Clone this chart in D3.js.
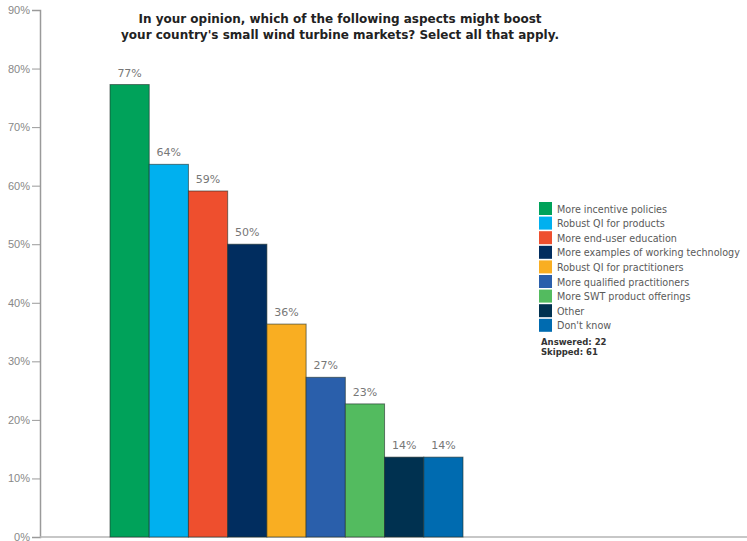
<!DOCTYPE html>
<html>
<head>
<meta charset="utf-8">
<script src="https://cdn.jsdelivr.net/npm/d3@7"></script>
<style>
  body { margin: 0; background: #fff; }
  svg { display: block; font-family: "DejaVu Sans", Verdana, sans-serif; }
</style>
</head>
<body>
<div id="chart"></div>
<script>
// survey answers (share of respondents)
const categories = [
    "More incentive policies",
    "Robust QI for products",
    "More end-user education",
    "More examples of working technology",
    "Robust QI for practitioners",
    "More qualified practitioners",
    "More SWT product offerings",
    "Other",
    "Don't know"
];
const values = [77.27, 63.64, 59.09, 50.0, 36.36, 27.27, 22.73, 13.64, 13.64];
const colors = ["#00a25a", "#00b0ef", "#ee4f2e", "#012d5f", "#f9ae22", "#2a5fab", "#53bb5f", "#003150", "#006bb0"];
const yTicks = [0, 10, 20, 30, 40, 50, 60, 70, 80, 90];
const titleLines = [
    "In your opinion, which of the following aspects might boost",
    "your country's small wind turbine markets? Select all that apply."
];
const notes = ["Answered: 22", "Skipped: 61"];

const width = 747, height = 541;

const svg = d3.select("#chart").append("svg")
    .attr("width", width)
    .attr("height", height);

const y = d3.scaleLinear().domain([0, 90]).range([537, 10]);
const x = d3.scaleBand().domain(categories).range([110, 463]).padding(0);

// title
svg.append("g").selectAll("text")
    .data(titleLines)
    .enter().append("text")
    .attr("x", 340)
    .attr("y", (d, i) => 23 + i * 15.5)
    .attr("text-anchor", "middle")
    .attr("font-size", 12)
    .attr("font-weight", "bold")
    .attr("fill", "#222")
    .text(d => d);

// y axis
const yAxis = d3.axisLeft(y)
    .tickValues(yTicks)
    .tickFormat(d => d + "%")
    .tickSize(8)
    .tickPadding(2);

const gy = svg.append("g")
    .attr("transform", "translate(40,0)")
    .call(yAxis);
gy.select(".domain").attr("stroke", "#9a9a9a").attr("stroke-width", 1.5);
gy.selectAll(".tick line").attr("stroke", "#9a9a9a");
gy.selectAll(".tick text").attr("fill", "#888").attr("font-size", 11);

// bottom line
svg.append("line")
    .attr("x1", 40).attr("x2", width)
    .attr("y1", y(0)).attr("y2", y(0))
    .attr("stroke", "#b5b5b5").attr("stroke-width", 1.5);

// bars
svg.append("g").selectAll("rect")
    .data(categories)
    .enter().append("rect")
    .attr("x", d => x(d))
    .attr("y", (d, i) => y(values[i]))
    .attr("width", x.bandwidth())
    .attr("height", (d, i) => y(0) - y(values[i]))
    .attr("fill", (d, i) => colors[i])
    .attr("stroke", "#1f2f2a")
    .attr("stroke-opacity", 0.6)
    .attr("stroke-width", 1);

// value labels
svg.append("g").selectAll("text")
    .data(categories)
    .enter().append("text")
    .attr("x", d => x(d) + x.bandwidth() / 2)
    .attr("y", (d, i) => y(values[i]) - 8)
    .attr("text-anchor", "middle")
    .attr("font-size", 11)
    .attr("fill", "#777")
    .text((d, i) => Math.round(values[i]) + "%");

// legend
const legend = svg.append("g").attr("transform", "translate(539,202)");
const item = legend.selectAll("g")
    .data(categories)
    .enter().append("g")
    .attr("transform", (d, i) => "translate(0," + i * 14.6 + ")");
item.append("rect")
    .attr("width", 13).attr("height", 13)
    .attr("fill", (d, i) => colors[i]);
item.append("text")
    .attr("x", 18).attr("y", 10.5)
    .attr("font-size", 9.6)
    .attr("fill", "#5a5a5a")
    .text(d => d);

legend.selectAll("text.note")
    .data(notes)
    .enter().append("text")
    .attr("class", "note")
    .attr("x", 2)
    .attr("y", (d, i) => 143 + i * 10)
    .attr("font-size", 8.5)
    .attr("font-weight", "bold")
    .attr("fill", "#333")
    .text(d => d);
</script>
</body>
</html>
